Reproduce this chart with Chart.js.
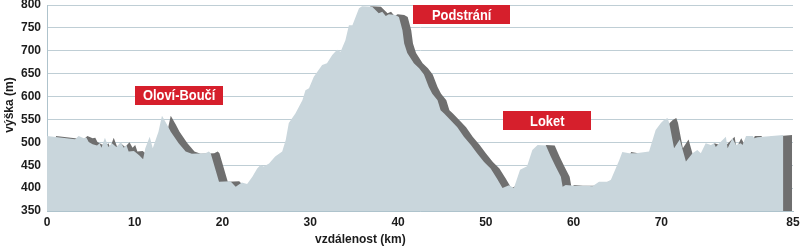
<!DOCTYPE html>
<html>
<head>
<meta charset="utf-8">
<script src="https://cdn.jsdelivr.net/npm/chart.js@4.4.1/dist/chart.umd.min.js"></script>
<style>
  html, body { margin: 0; padding: 0; background: #fff; }
  #wrap { position: relative; width: 800px; height: 246px; }
</style>
</head>
<body>
<div id="wrap"><canvas id="profile"></canvas></div>
<script>
// elevation profile
const distKm = [
  0, 3.2, 3.6, 4.2, 4.5, 4.75, 5.2, 5.7, 6.0, 6.2, 6.6, 7.0, 7.4, 7.9, 8.4, 8.75, 9.05, 9.3, 9.9,
  10.5, 10.95, 11.2, 11.7, 12.05, 12.7, 13.1, 13.7, 14.1, 15.0, 15.8, 16.5, 18.05, 18.45, 18.65,
  19.6, 20.9, 21.5, 22.2, 22.8, 23.4, 23.95, 24.3, 24.7, 25.3, 26.0, 26.8, 27.2, 27.55, 28.3,
  29.1, 29.45, 29.85, 30.4, 31.35, 31.9, 32.5, 33.05, 33.45, 34.0, 34.4, 34.8, 35.55, 35.9,
  37.05, 37.8, 38.2, 38.6, 38.95, 39.7, 40.1, 40.5, 40.7, 41.05, 41.8, 42.4, 42.95, 43.5, 43.9,
  44.5, 44.85, 45.25, 45.8, 46.75, 47.5, 48.3, 49.0, 49.8, 50.55, 51.3, 51.9, 52.65, 53.2, 53.9,
  54.7, 55.3, 55.9, 56.85, 57.4, 57.95, 58.55, 58.75, 59.1, 60.05, 61.4, 62.15, 62.9, 63.85,
  64.25, 65.2, 65.55, 66.35, 67.1, 68.6, 69.35, 69.95, 70.3, 70.7, 70.9, 71.45, 72.1, 72.8,
  73.55, 74.1, 74.5, 75.05, 75.65, 76.0, 76.2, 76.6, 77.35, 77.55, 78.1, 78.5, 79.05, 79.25,
  79.65, 80.4, 80.6, 80.95, 83.9
];
const heightM = [
  514, 507, 514, 509, 510, 501, 496, 493, 498, 488, 510, 490, 498, 490, 500, 488, 494, 480, 481,
  472, 463, 487, 512, 487, 523, 558, 538, 523, 498, 480, 475, 476, 480, 476,
  414, 415, 403, 412, 409, 425, 443, 450, 447, 454, 469, 480, 505, 542, 563,
  592, 614, 618, 643, 669, 673, 691, 702, 698, 723, 756, 756, 793, 797,
  796, 782, 785, 776, 780, 778, 774, 745, 716, 695, 673, 662, 648, 621, 606,
  592, 570, 563, 552, 533, 512, 494, 476, 457, 443, 420, 400, 406, 400, 440,
  448, 483, 494, 493, 469, 447, 425, 403, 407, 405, 405, 404, 414, 414,
  418, 461, 479, 476, 476, 480, 527, 542, 549, 553, 542, 487, 506, 458,
  476, 483, 476, 498, 494, 498, 490, 498, 512, 487, 509, 494, 498, 494,
  514, 514, 509, 511, 516
];

const xTicks = [0, 10, 20, 30, 40, 50, 60, 70, 85];

// place names in red boxes: [name, km, m]
const placeNames = ["Oloví-Boučí", "Podstrání", "Loket"];
const placeKm = [15.05, 47.25, 57.0];
const placeM = [603, 779, 548];
const placeBoxW = [88, 97, 88];

const SHADOW_KM = 1; // dark extruded edge, shifted one km to the right

const FONT = "'Liberation Sans', Arial, sans-serif";
const LIGHT = "#c9d6dc";
const DARK = "#6f6f6f";

const lightPts = distKm.map((d, i) => ({ x: d, y: heightM[i] }));
const darkPts = distKm.map((d, i) => ({ x: d + SHADOW_KM, y: heightM[i] }));

const labelsPlugin = {
  id: "placeLabels",
  afterDatasetsDraw(chart) {
    const { ctx, scales } = chart;
    ctx.save();
    placeNames.forEach((name, i) => {
      const cx = scales.x.getPixelForValue(placeKm[i]);
      const cy = scales.y.getPixelForValue(placeM[i]);
      const w = placeBoxW[i], h = 19;
      ctx.fillStyle = "#d61f2c";
      ctx.fillRect(Math.round(cx - w / 2), Math.round(cy - h / 2), w, h);
      ctx.save();
      ctx.translate(cx, cy + 1);
      ctx.scale(0.86, 1);
      ctx.fillStyle = "#fff";
      ctx.font = "bold 15px " + FONT;
      ctx.textAlign = "center";
      ctx.textBaseline = "middle";
      ctx.fillText(name, 0, 0);
      ctx.restore();
    });
    ctx.restore();
  },
  afterDraw(chart) {
    const { ctx, chartArea, scales } = chart;
    ctx.save();
    ctx.fillStyle = "#1c1c1c";
    ctx.font = "bold 12px " + FONT;
    ctx.textAlign = "center";
    ctx.textBaseline = "middle";
    ctx.fillText("vzdálenost (km)", scales.x.getPixelForValue(35.7), 240);
    ctx.translate(10, (chartArea.top + chartArea.bottom) / 2 - 3);
    ctx.rotate(-Math.PI / 2);
    ctx.fillText("výška (m)", 0, 0);
    ctx.restore();
  },
};

new Chart(document.getElementById("profile"), {
  type: "line",
  data: {
    datasets: [
      {
        label: "výška",
        data: lightPts,
        backgroundColor: LIGHT,
        borderWidth: 0,
        pointRadius: 0,
        fill: "start",
        tension: 0,
      },
      {
        label: "stín",
        data: darkPts,
        backgroundColor: DARK,
        borderWidth: 0,
        pointRadius: 0,
        fill: "start",
        tension: 0,
      },
    ],
  },
  options: {
    responsive: true,
    maintainAspectRatio: false,
    animation: false,
    layout: { padding: { top: 5, right: 7, left: 0, bottom: 0 } },
    plugins: {
      legend: { display: false },
      tooltip: { enabled: false },
    },
    scales: {
      x: {
        type: "linear",
        min: 0,
        max: 85,
        afterBuildTicks: (scale) => {
          scale.ticks = xTicks.map((v) => ({ value: v }));
        },
        afterFit: (scale) => {
          scale.height = 35;
          scale.paddingLeft = 0;
          scale.paddingRight = 0;
        },
        grid: { display: false, drawTicks: false },
        border: { display: true, color: "#aec3cc", width: 1 },
        ticks: {
          color: "#1c1c1c",
          padding: 4,
          maxRotation: 0,
          autoSkip: false,
          font: { family: FONT, size: 12, weight: "bold" },
        },
      },
      y: {
        min: 350,
        max: 800,
        afterFit: (scale) => {
          scale.width = 47;
          scale.paddingTop = 0;
          scale.paddingBottom = 0;
        },
        grid: { color: "#bfced5", drawTicks: false },
        border: { display: true, color: "#aec3cc", width: 1 },
        ticks: {
          stepSize: 50,
          color: "#1c1c1c",
          padding: 6,
          font: { family: FONT, size: 12, weight: "bold" },
        },
      },
    },
  },
  plugins: [labelsPlugin],
});
</script>
</body>
</html>
